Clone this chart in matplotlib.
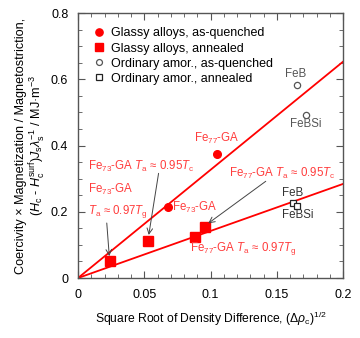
import matplotlib
matplotlib.use("Agg")
import matplotlib.pyplot as plt
from matplotlib.ticker import MultipleLocator

plt.rcParams['font.family'] = ['Liberation Sans', 'DejaVu Sans']
plt.rcParams['mathtext.fontset'] = 'custom'
plt.rcParams['mathtext.rm'] = 'Liberation Sans'
plt.rcParams['mathtext.it'] = 'Liberation Sans:italic'
plt.rcParams['mathtext.bf'] = 'Liberation Sans:bold'

# glassy alloys, as-quenched (filled circles)
gq_x = [0.068, 0.105]
gq_y = [0.215, 0.374]
# glassy alloys, annealed (filled squares)
ga_x = [0.024, 0.053, 0.088, 0.096]
ga_y = [0.051, 0.112, 0.125, 0.155]
# ordinary amorphous, as-quenched (open circles)
oq_x = [0.165, 0.172]
oq_y = [0.583, 0.493]
# ordinary amorphous, annealed (open squares)
oa_x = [0.162, 0.165]
oa_y = [0.225, 0.218]
# fitted lines through origin
line_x = [0.0, 0.2]
steep_y = [0.0, 0.653]
shallow_y = [0.0, 0.284]

xticks = [0, 0.05, 0.1, 0.15, 0.2]
xticklabels = ['0', '0.05', '0.1', '0.15', '0.2']
yticks = [0, 0.2, 0.4, 0.6, 0.8]
yticklabels = ['0', '0.2', '0.4', '0.6', '0.8']

RED = '#ff0000'
TXT = '#ff3c3c'
GRAY = '#555555'

fig = plt.figure(figsize=(3.6, 3.38), dpi=100)
ax = fig.add_axes([0.2167, 0.1775, 0.7361, 0.784])

ax.plot(line_x, steep_y, color=RED, lw=1.3, zorder=2)
ax.plot(line_x, shallow_y, color=RED, lw=1.3, zorder=2)

ax.plot(gq_x, gq_y, 'o', color=RED, ms=5.5, zorder=3,
        label='Glassy alloys, as-quenched')
ax.plot(ga_x, ga_y, 's', color=RED, ms=6.5, zorder=3,
        label='Glassy alloys, annealed')
ax.plot(oq_x, oq_y, 'o', mfc='white', mec=GRAY, mew=0.9, ms=4.5, zorder=3,
        label='Ordinary amor., as-quenched')
ax.plot(oa_x, oa_y, 's', mfc='white', mec='#222222', mew=0.9, ms=5, zorder=3,
        label='Ordinary amor., annealed')

fs = 8.3
ax.text(0.0075, 0.338, r'Fe$_{73}$-GA $T_\mathrm{a}$ ≈ 0.95$T_\mathrm{c}$',
        color=TXT, fontsize=fs, va='center')
ax.text(0.0075, 0.266, r'Fe$_{73}$-GA', color=TXT, fontsize=fs, va='center')
ax.text(0.0075, 0.202, r'$T_\mathrm{a}$ ≈ 0.97$T_\mathrm{g}$',
        color=TXT, fontsize=fs, va='center')
ax.text(0.071, 0.212, r'Fe$_{73}$-GA', color=TXT, fontsize=fs, va='center')
ax.text(0.105, 0.42, r'Fe$_{77}$-GA', color=TXT, fontsize=fs,
        va='center', ha='center')
ax.text(0.114, 0.317, r'Fe$_{77}$-GA $T_\mathrm{a}$ ≈ 0.95$T_\mathrm{c}$',
        color=TXT, fontsize=fs, va='center')
ax.text(0.0845, 0.09, r'Fe$_{77}$-GA $T_\mathrm{a}$ ≈ 0.97$T_\mathrm{g}$',
        color=TXT, fontsize=fs, va='center')

ax.text(0.1645, 0.616, 'FeB', color=GRAY, fontsize=fs, ha='center', va='center')
ax.text(0.172, 0.465, 'FeBSi', color=GRAY, fontsize=fs, ha='center', va='center')
ax.text(0.154, 0.257, 'FeB', color='#333333', fontsize=fs, va='center')
ax.text(0.154, 0.19, 'FeBSi', color='#333333', fontsize=fs, va='center')

arrow = dict(arrowstyle='->', color='#444444', lw=0.7, shrinkA=0, shrinkB=0)
ax.annotate('', xy=(0.0534, 0.130), xytext=(0.0608, 0.316), arrowprops=arrow)
ax.annotate('', xy=(0.0236, 0.066), xytext=(0.0217, 0.166), arrowprops=arrow)
ax.annotate('', xy=(0.0983, 0.165), xytext=(0.1417, 0.292), arrowprops=arrow)

ax.set_xlim(0, 0.2)
ax.set_ylim(0, 0.8)
ax.set_xticks(xticks)
ax.set_xticklabels(xticklabels)
ax.set_yticks(yticks)
ax.set_yticklabels(yticklabels)
ax.xaxis.set_minor_locator(MultipleLocator(0.01))
ax.yaxis.set_minor_locator(MultipleLocator(0.05))
ax.tick_params(which='both', direction='in', top=True, right=True,
               color=GRAY, labelsize=9)
ax.tick_params(axis='x', pad=8)
ax.tick_params(axis='y', pad=7)
ax.tick_params(which='major', length=5)
ax.tick_params(which='minor', length=3)
for s in ax.spines.values():
    s.set_color(GRAY)
    s.set_linewidth(1.0)

ax.set_xlabel(r'Square Root of Density Difference, $(\Delta\rho_\mathrm{c})^{1/2}$',
              fontsize=8.7, labelpad=6)
ax.set_ylabel('Coercivity × Magnetization / Magnetostriction,\n'
              r'$(H_\mathrm{c}$ - $H_\mathrm{c}^\mathrm{surf})J_\mathrm{s}\lambda_\mathrm{s}^{-1}$ / MJ·m$^{-3}$',
              fontsize=9.1, labelpad=2, linespacing=1.1)

leg = ax.legend(loc='upper left', frameon=False, fontsize=9, handlelength=1,
                handletextpad=0.5, labelspacing=0.25, borderaxespad=0.75,
                markerscale=0.95)

fig.savefig('out.png', dpi=100)
